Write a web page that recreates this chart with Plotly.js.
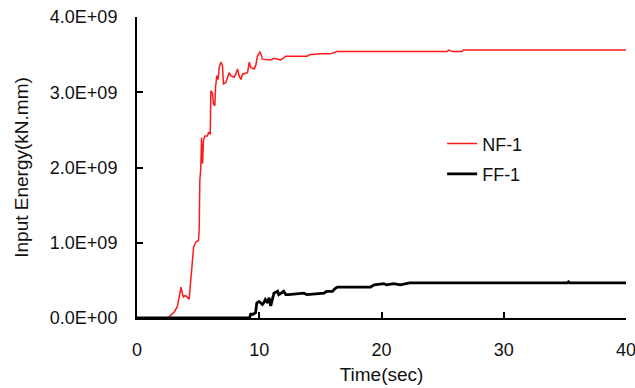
<!DOCTYPE html>
<html>
<head>
<meta charset="utf-8">
<script src="https://cdn.plot.ly/plotly-3.0.1.min.js"></script>
<style>html,body{margin:0;padding:0;background:#fff;}#chart{width:635px;height:388px;}</style>
</head>
<body>
<div id="chart"></div>
<script>
// NF-1 (time in sec, input energy in kN.mm)
var nfTime = [0,2.6,2.65,3.05,3.3,3.45,3.6,3.7,3.8,3.97,4.1,4.27,4.35,4.49,4.63,4.82,5.03,5.09,5.14,5.22,5.28,5.32,5.36,5.44,5.55,5.77,5.85,5.99,6.04,6.17,6.26,6.37,6.42,6.53,6.64,6.72,6.86,6.99,7.07,7.27,7.40,7.54,7.67,7.95,8.08,8.22,8.35,8.50,8.63,8.90,9.04,9.18,9.31,9.58,9.72,9.85,10.07,10.26,10.94,11.2,11.75,12.02,12.16,13.93,14.1,15.0,15.8,16.2,16.3,25.36,25.5,25.8,26.6,26.7,40];
var nfEnergy = [0,0,0.02,0.08,0.15,0.26,0.41,0.33,0.28,0.30,0.28,0.25,0.41,0.68,0.94,1.01,1.03,1.19,1.83,2.0,2.40,2.10,2.05,2.36,2.42,2.42,2.47,2.44,3.02,2.99,2.84,2.82,3.06,3.22,3.17,3.33,3.40,3.36,3.11,3.13,3.20,3.26,3.22,3.20,3.24,3.31,3.22,3.17,3.24,3.25,3.26,3.40,3.33,3.31,3.36,3.48,3.54,3.44,3.43,3.45,3.43,3.46,3.48,3.48,3.50,3.51,3.51,3.53,3.54,3.54,3.56,3.54,3.54,3.56,3.56].map(function(v){return v*1e9;});
// FF-1
var ffTime = [0,9.2,9.3,9.5,9.7,9.8,9.98,10.1,10.26,10.4,10.5,10.7,10.8,10.94,11.1,11.2,11.5,11.6,11.8,12.0,12.17,12.4,13.65,13.9,15.3,15.5,16.0,16.2,16.4,19.1,19.4,20.2,20.4,21.0,21.55,22.3,35.2,35.3,35.4,40];
var ffEnergy = [0,0,0.05,0.05,0.07,0.20,0.22,0.20,0.18,0.21,0.245,0.20,0.27,0.16,0.29,0.33,0.355,0.31,0.33,0.355,0.31,0.31,0.33,0.31,0.33,0.355,0.355,0.39,0.41,0.41,0.44,0.457,0.44,0.457,0.44,0.466,0.466,0.48,0.466,0.466].map(function(v){return v*1e9;});

var xTickVals = [0,10,20,30,40];
var yTickVals = [0,1e9,2e9,3e9,4e9];
var yTickText = ["0.0E+00","1.0E+09","2.0E+09","3.0E+09","4.0E+09"];

var fontFam = "Arial, 'Liberation Sans', sans-serif";

var traces = [
  {x: nfTime, y: nfEnergy, type: 'scatter', mode: 'lines', name: 'NF-1', legendgroup: 'a',
   line: {color: '#ff1a1a', width: 1.5}},
  {x: ffTime, y: ffEnergy, type: 'scatter', mode: 'lines', name: 'FF-1', legendgroup: 'b',
   line: {color: '#000000', width: 2.8}}
];

var layout = {
  width: 635, height: 388,
  margin: {l: 137, r: 9, t: 17, b: 70, pad: 0},
  paper_bgcolor: '#ffffff', plot_bgcolor: '#ffffff',
  font: {family: fontFam, size: 18, color: '#111111'},
  showlegend: true,
  legend: {x: 0.624, y: 0.64, xanchor: 'left', yanchor: 'top', bgcolor: 'rgba(0,0,0,0)',
           font: {family: fontFam, size: 18, color: '#111111'}, itemwidth: 30,
           traceorder: 'grouped', tracegroupgap: 4},
  xaxis: {
    range: [0, 40], tickvals: xTickVals, ticks: 'inside', ticklen: 6, tickwidth: 2, tickcolor: '#000',
    showline: true, linecolor: '#000', linewidth: 2, showgrid: false, zeroline: false,
    ticklabelstandoff: 14, ticklabeloverflow: 'allow',
    title: {text: 'Time(sec)', font: {family: fontFam, size: 19, color: '#111111'}, standoff: 9}
  },
  yaxis: {
    range: [0, 4e9], tickvals: yTickVals, ticktext: yTickText, ticks: 'inside', ticklen: 6, tickwidth: 2, tickcolor: '#000',
    showline: true, linecolor: '#000', linewidth: 2, showgrid: false, zeroline: false,
    ticklabelstandoff: 14,
    title: {text: 'Input Energy(kN.mm)', font: {family: fontFam, size: 19, color: '#111111'}, standoff: 16}
  }
};

Plotly.newPlot('chart', traces, layout, {displayModeBar: false, staticPlot: true});
</script>
</body>
</html>
